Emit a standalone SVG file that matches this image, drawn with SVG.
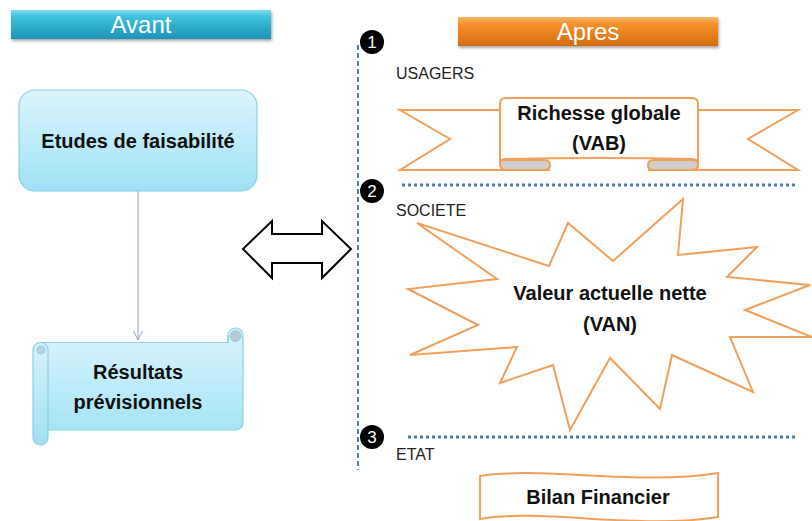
<svg xmlns="http://www.w3.org/2000/svg" width="812" height="521" viewBox="0 0 812 521">
<defs>
<linearGradient id="gTeal" x1="0" y1="0" x2="0" y2="1">
<stop offset="0" stop-color="#7fdcef"/><stop offset="0.25" stop-color="#3cbfdd"/><stop offset="1" stop-color="#1d94b6"/>
</linearGradient>
<linearGradient id="gOrange" x1="0" y1="0" x2="0" y2="1">
<stop offset="0" stop-color="#fbb66a"/><stop offset="0.25" stop-color="#f5912a"/><stop offset="1" stop-color="#d46b0f"/>
</linearGradient>
<linearGradient id="gBlue" x1="0" y1="0" x2="0" y2="1">
<stop offset="0" stop-color="#dbf5fd"/><stop offset="1" stop-color="#9fe1f5"/>
</linearGradient>
<filter id="sh" x="-10%" y="-30%" width="120%" height="170%">
<feDropShadow dx="1" dy="2" stdDeviation="1.5" flood-color="#000" flood-opacity="0.35"/>
</filter>
<marker id="arr" markerWidth="12" markerHeight="12" refX="6" refY="11" orient="0" markerUnits="userSpaceOnUse" viewBox="0 0 12 12">
<path d="M1.5,2 L6,11 L10.5,2" fill="none" stroke="#8aa6bf" stroke-width="1"/>
</marker>
</defs>
<style>
.hdr{font-family:"Liberation Sans",Arial,sans-serif;font-size:24px;fill:#fff;text-anchor:middle}
.lbl{font-family:"Liberation Sans",Arial,sans-serif;font-size:16px;fill:#222}
.bold{font-family:"Liberation Sans",Arial,sans-serif;font-size:20px;font-weight:bold;fill:#111;text-anchor:middle}
.num{font-family:"Liberation Sans",Arial,sans-serif;font-size:17px;fill:#fff;text-anchor:middle}
.or{fill:#fff;stroke:#f0a05a;stroke-width:2;stroke-linejoin:miter}
.bluebox{fill:url(#gBlue);stroke:#8ccfe3;stroke-width:1.2}
.dot{stroke:#4a7eb0;stroke-width:3;stroke-dasharray:3 3;fill:none}
</style>

<g id="avant">
<rect x="11" y="10" width="260" height="29" fill="url(#gTeal)" filter="url(#sh)"/>
<text class="hdr" x="141" y="33">Avant</text>
</g>

<g id="apres">
<rect x="458" y="17" width="260" height="29" fill="url(#gOrange)" filter="url(#sh)"/>
<text class="hdr" x="588" y="40">Apres</text>
</g>

<g id="etudes">
<rect x="19" y="90" width="238" height="101" rx="16" class="bluebox"/>
<text class="bold" x="138" y="148">Etudes de faisabilité</text>
</g>

<g id="connectors">
<line x1="138" y1="191" x2="138" y2="340" stroke="#8aa6bf" stroke-width="1" marker-end="url(#arr)"/>
</g>

<g id="resultats">
<path class="bluebox" d="M33,350 A7.5,7.5 0 0 1 40.5,342.5 H228 V335.5 A7.5,7.5 0 0 1 243,335.5 V422.5 A7.5,7.5 0 0 1 235.5,430 H48 V437.5 A7.5,7.5 0 0 1 33,437.5 Z"/>
<path d="M40.5,342.5 A7.5,7.5 0 0 1 48,350 V430" fill="none" stroke="#8ccfe3" stroke-width="1.2"/>
<circle cx="41" cy="350" r="4" fill="#b9d6de" stroke="#8ccfe3" stroke-width="1"/>
<path d="M228,335.5 V343" fill="none" stroke="#8ccfe3" stroke-width="1.2"/>
<circle cx="235.5" cy="336" r="5.5" fill="#b9ccd2" stroke="#8ccfe3" stroke-width="1"/>
<text class="bold" x="138" y="379">Résultats</text>
<text class="bold" x="138" y="409">prévisionnels</text>
</g>

<g id="double-arrow">
<polygon points="243,249 272,221 272,234 322,234 322,221 351,249 322,278 322,263 272,263 272,278" fill="#fff" stroke="#000" stroke-width="2" stroke-linejoin="miter"/>
</g>

<g id="timeline">
<line x1="358" y1="45" x2="358" y2="470" stroke="#4a7eb0" stroke-width="2" stroke-dasharray="5 3"/>
<line class="dot" x1="402" y1="185" x2="796" y2="185"/>
<line class="dot" x1="408" y1="437" x2="796" y2="437"/>
</g>

<g id="marker1">
<circle cx="372" cy="42" r="12" fill="#000"/>
<text class="num" x="372" y="48">1</text>
</g>
<g id="marker2">
<circle cx="372" cy="191" r="12" fill="#000"/>
<text class="num" x="372" y="197">2</text>
</g>
<g id="marker3">
<circle cx="372" cy="437" r="12" fill="#000"/>
<text class="num" x="372" y="443">3</text>
</g>

<g id="usagers">
<text class="lbl" x="396" y="79">USAGERS</text>
</g>
<g id="societe">
<text class="lbl" x="396" y="216">SOCIETE</text>
</g>
<g id="etat">
<text class="lbl" x="396" y="460">ETAT</text>
</g>

<g id="richesse">
<path class="or" d="M500,110 H400 L450,139 L400,170 H550"/>
<path class="or" d="M698,110 H798 L748,139 L798,170 H648"/>
<path d="M500,160 V164 Q500,170 507,170 H544 Q550,170 550,165 Q550,160 544,160 Z" fill="#cfcfcf" stroke="#f0a05a" stroke-width="2"/>
<path d="M648,165 Q648,160 654,160 H692 Q698,160 698,164 V165 Q698,170 691,170 H654 Q648,170 648,165 Z" fill="#cfcfcf" stroke="#f0a05a" stroke-width="2"/>
<path class="or" d="M500,104 Q500,98 506,98 H692 Q698,98 698,104 V164 Q698,159 692,159 Q600,157 506,159 Q500,159 500,164 Z"/>
<text class="bold" x="599" y="120">Richesse globale</text>
<text class="bold" x="599" y="150">(VAB)</text>
</g>

<g id="van">
<polygon class="or" points="417,223 549,266 568,223 613,261 683,199 678,255 757,247 727,277 810,285 745,310 812,337 730,337 753,392 672,355 660,409 610,358 570,430 553,365 500,383 517,347 410,355 478,325 408,289 497,279"/>
<text class="bold" x="610" y="300">Valeur actuelle nette</text>
<text class="bold" x="610" y="331">(VAN)</text>
</g>

<g id="bilan">
<path class="or" d="M480,476 C540,466 640,486 718,473 V517 C640,530 540,508 480,519 Z"/>
<text class="bold" x="598" y="504">Bilan Financier</text>
</g>
</svg>
